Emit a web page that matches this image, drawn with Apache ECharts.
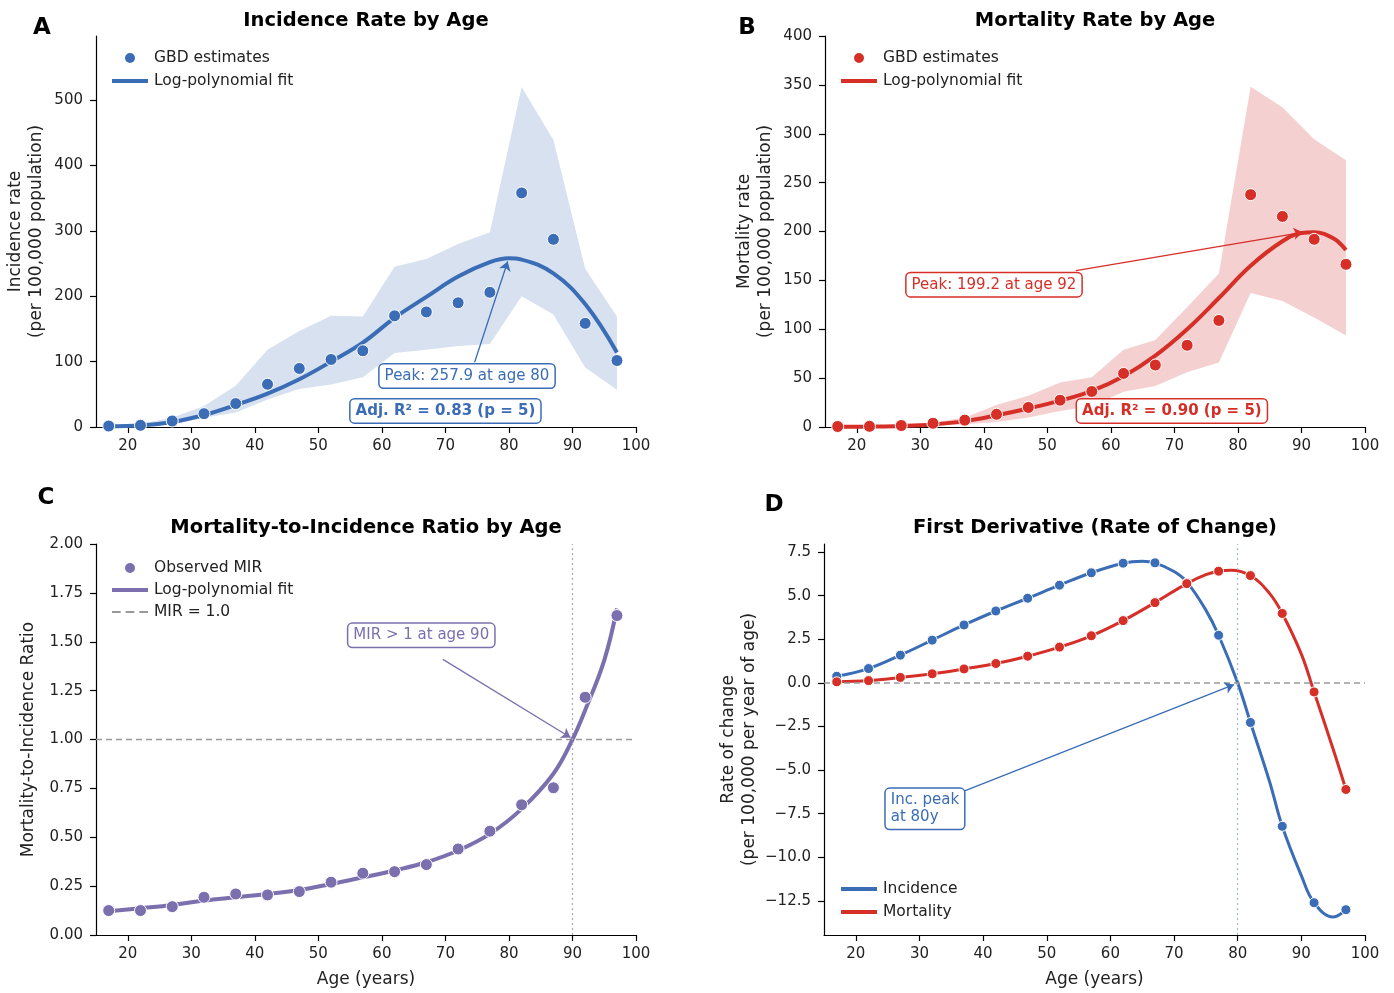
<!DOCTYPE html>
<html><head><meta charset="utf-8">
<script src="https://cdn.jsdelivr.net/npm/echarts@6/dist/echarts.min.js"></script>
<style>html,body{margin:0;padding:0;background:#fff}#c{width:1394px;height:993px}</style>
</head><body><div id="c"></div>
<script>
const FONT = "DejaVu Sans";
const BLUE = "#3a6db5", RED = "#d62f28", PURPLE = "#7b6fae";
const BAND_BLUE = "#d8e1ef", BAND_RED = "#f4d1d0";

// ---- data ----
const ages = [17,22,27,32,37,42,47,52,57,62,67,72,77,82,87,92,97];
const xTicks = [20,30,40,50,60,70,80,90,100];

const incObs   = [1.5,2.6,9.2,20.4,35.8,65.4,89.5,103.3,116.6,170,176,190,206,358,287,158.5,101.7];
const incLower = [0.5,1.5,4,14,22,42,58,65,76,113,118,124,127,200,172,91,57];
const incUpper = [3,5,14,32,63,118,147,170,169,245,257,280,298,520,439,242,169];
const incFitAges = [17,22,27,32,37,42,47,52,57,62,67,72,77,80,82,87,92,97];
const incFitVals = [1,2.5,7.7,18.4,33.7,51,73,100,129,167,199,230,252,257.9,256,235,188,114];
const incTicks = [0,100,200,300,400,500];

const morObs   = [0.5,0.7,1.5,3.8,7,13,20,27.4,36.3,54.8,63.4,83.6,109,237.7,215.4,192,166.4];
const morLower = [0.1,0.2,0.5,1.4,2.7,5,9.6,16.4,21.6,36,42,56,66,137,129,112,93.5];
const morUpper = [0.8,1.2,2.5,4.5,9.6,22.6,32,45.5,51,79,89,122.6,157,348,327,294.5,273];
const morFitAges = [17,22,27,32,37,42,47,52,57,62,67,72,77,82,87,90,92,95,97];
const morFitVals = [0.2,0.5,1.1,2.6,6,12,19,27,37,52,73,100,132,165,190,198.5,199.2,193,181];
const morTicks = [0,50,100,150,200,250,300,350,400];

const mirObs = [0.125,0.125,0.145,0.193,0.21,0.205,0.222,0.27,0.316,0.324,0.36,0.44,0.531,0.666,0.753,1.216,1.634];
const mirFitAges = [17,22,27,32,37,42,47,52,57,62,67,72,77,82,87,90,92,95,97];
const mirFitVals = [0.121,0.137,0.154,0.176,0.193,0.21,0.23,0.261,0.295,0.33,0.372,0.432,0.517,0.645,0.825,1.0,1.15,1.405,1.67];
const mirTicks = [0,0.25,0.5,0.75,1,1.25,1.5,1.75,2];

const dIncAges = [17,22,27,32,37,42,47,52,57,62,65,67,70,72,75,77,80,82,85,87,90,92,95,97];
const dIncVals = [0.38,0.82,1.59,2.45,3.32,4.12,4.85,5.6,6.31,6.86,6.97,6.88,6.38,5.79,4.17,2.73,0,-2.27,-5.65,-8.22,-11.05,-12.6,-13.42,-13.0];
const dIncPts  = [0.38,0.82,1.59,2.45,3.32,4.12,4.85,5.6,6.31,6.86,6.88,5.72,2.73,-2.27,-8.22,-12.6,-13.0];
const dMorAges = [17,22,27,32,37,42,47,52,57,62,67,72,75,77,79,82,85,87,90,92,95,97];
const dMorVals = [0.06,0.13,0.31,0.52,0.8,1.11,1.53,2.05,2.7,3.57,4.6,5.69,6.2,6.4,6.46,6.15,5.13,3.98,1.65,-0.52,-3.8,-6.11];
const dMorPts  = [0.06,0.13,0.31,0.52,0.8,1.11,1.53,2.05,2.7,3.57,4.6,5.69,6.4,6.15,3.98,-0.52,-6.11];
const dTicks = [-12.5,-10,-7.5,-5,-2.5,0,2.5,5,7.5];

const legendNames = {
  incObs:'GBD estimates', incFit:'Log-polynomial fit',
  morObs:'GBD estimates', morFit:'Log-polynomial fit',
  mirObs:'Observed MIR', mirFit:'Log-polynomial fit', mirRef:'MIR = 1.0',
  Incidence:'Incidence', Mortality:'Mortality'
};

// ---- helpers ----
const zip = (a,b) => a.map((v,i)=>[v,b[i]]);
const TXT = '#222';
const BAR_ICON = 'path://M0,0H36V4H0Z';
const DASH_ICON = 'path://M0,0H7V1.6H0ZM11,0H18V1.6H11ZM22,0H29V1.6H22Z';

function xAx(gi, named){
  return {type:'value', gridIndex:gi, min:15, max:100,
    axisLine:{onZero:false, lineStyle:{color:'#000',width:1.2}},
    axisTick:{customValues:xTicks, length:6, lineStyle:{color:'#000',width:1.2}},
    axisLabel:{customValues:xTicks, color:TXT, fontSize:15, fontFamily:FONT, margin:12},
    splitLine:{show:false},
    name: named ? 'Age (years)' : '', nameLocation:'middle', nameGap:36,
    nameTextStyle:{fontSize:17, color:TXT, fontFamily:FONT}};
}
function yAx(gi, min, max, ticks, fmt, name, gap){
  return {type:'value', gridIndex:gi, min:min, max:max,
    axisLine:{show:true, onZero:false, lineStyle:{color:'#000',width:1.2}},
    axisTick:{show:true, customValues:ticks, length:6, lineStyle:{color:'#000',width:1.2}},
    axisLabel:{customValues:ticks, color:TXT, fontSize:15, fontFamily:FONT, margin:13, formatter:fmt},
    splitLine:{show:false},
    name:name, nameLocation:'middle', nameGap:gap, nameRotate:90,
    nameTextStyle:{fontSize:17, color:TXT, fontFamily:FONT, lineHeight:21}};
}
function bandSeries(gi, lower, upper, fill){
  return {type:'custom', xAxisIndex:gi, yAxisIndex:gi, silent:true, z:1,
    data: ages.map((a,i)=>[a, lower[i], upper[i]]),
    encode:{x:0, y:[1,2]},
    renderItem:(params, api)=>{
      if (params.dataIndex !== 0) return null;
      const pts = [];
      for (let i=0;i<ages.length;i++) pts.push(api.coord([ages[i], upper[i]]));
      for (let i=ages.length-1;i>=0;i--) pts.push(api.coord([ages[i], lower[i]]));
      return {type:'polygon', shape:{points:pts}, style:{fill:fill}};
    }};
}
function boxLabel(text, color, bold, align){
  return {show:true, position:'inside', formatter:text, color:color,
    fontFamily:FONT, fontSize:15, fontWeight: bold?'bold':'normal',
    backgroundColor:'#fff', borderColor:color, borderWidth:1.5, borderRadius:4,
    padding:[4,5,2,5], align: align||'center', verticalAlign:'middle', lineHeight:17};
}
function arrow(from, to, color){
  return {silent:true, symbol:['none','arrow'], symbolSize:9, animation:false,
    label:{show:false}, lineStyle:{color:color, width:1.3, type:'solid'},
    data:[[{coord:from},{coord:to}]]};
}
function mp(items){
  return {silent:true, animation:false, symbol:'rect', symbolSize:1,
    itemStyle:{color:'transparent'},
    data: items.map(it=>({coord:it.coord, value:0, label:it.label}))};
}

const grids = [
  {left:96, top:36, width:540, height:391},
  {left:825, top:36, width:540, height:391},
  {left:96, top:544, width:540, height:391},
  {left:824, top:544, width:541, height:391}
];

const legendBase = {orient:'vertical', itemWidth:36, itemHeight:12, itemGap:6,
  formatter: n => legendNames[n], selectedMode:false,
  textStyle:{fontFamily:FONT, fontSize:15.5, color:TXT, padding:[0,0,0,1]}};

const option = {
  animation:false,
  backgroundColor:'#fff',
  grid: grids,
  xAxis: [xAx(0,false), xAx(1,false), xAx(2,true), xAx(3,true)],
  yAxis: [
    yAx(0, 0, 598, incTicks, v=>String(v), 'Incidence rate\n(per 100,000 population)', 49),
    yAx(1, 0, 400, morTicks, v=>String(v), 'Mortality rate\n(per 100,000 population)', 49),
    yAx(2, 0, 2, mirTicks, v=>v.toFixed(2), 'Mortality-to-Incidence Ratio', 57),
    yAx(3, -14.45, 7.96, dTicks, v=>(v<0?'\u2212':'')+Math.abs(v).toFixed(1), 'Rate of change\n(per 100,000 per year of age)', 64)
  ],
  legend: [
    Object.assign({}, legendBase, {left:107, top:45, itemGap:7, data:['incObs',{name:'incFit', icon:BAR_ICON}]}),
    Object.assign({}, legendBase, {left:836, top:45, itemGap:7, data:['morObs',{name:'morFit', icon:BAR_ICON}]}),
    Object.assign({}, legendBase, {left:107, top:555, itemGap:6, data:['mirObs',{name:'mirFit', icon:BAR_ICON},{name:'mirRef', icon:DASH_ICON}]}),
    Object.assign({}, legendBase, {left:836, top:876, itemGap:7, data:[{name:'Incidence', icon:BAR_ICON},{name:'Mortality', icon:BAR_ICON}]})
  ],
  graphic: [
    {type:'text', x:366, y:21, style:{text:'Incidence Rate by Age', font:'bold 19.5px "DejaVu Sans"', fill:'#000', textAlign:'center', textVerticalAlign:'middle'}},
    {type:'text', x:1095, y:21, style:{text:'Mortality Rate by Age', font:'bold 19.5px "DejaVu Sans"', fill:'#000', textAlign:'center', textVerticalAlign:'middle'}},
    {type:'text', x:366, y:528, style:{text:'Mortality-to-Incidence Ratio by Age', font:'bold 19.5px "DejaVu Sans"', fill:'#000', textAlign:'center', textVerticalAlign:'middle'}},
    {type:'text', x:1095, y:528, style:{text:'First Derivative (Rate of Change)', font:'bold 19.5px "DejaVu Sans"', fill:'#000', textAlign:'center', textVerticalAlign:'middle'}},
    {type:'text', x:42, y:28, style:{text:'A', font:'bold 23px "DejaVu Sans"', fill:'#000', textAlign:'center', textVerticalAlign:'middle'}},
    {type:'text', x:747, y:28, style:{text:'B', font:'bold 23px "DejaVu Sans"', fill:'#000', textAlign:'center', textVerticalAlign:'middle'}},
    {type:'text', x:46, y:498, style:{text:'C', font:'bold 23px "DejaVu Sans"', fill:'#000', textAlign:'center', textVerticalAlign:'middle'}},
    {type:'text', x:774, y:505, style:{text:'D', font:'bold 23px "DejaVu Sans"', fill:'#000', textAlign:'center', textVerticalAlign:'middle'}}
  ],
  series: [
    // ---- A ----
    bandSeries(0, incLower, incUpper, BAND_BLUE),
    {name:'incFit', type:'line', xAxisIndex:0, yAxisIndex:0, z:3, data:zip(incFitAges, incFitVals),
      smooth:0.4, symbol:'none', lineStyle:{color:BLUE, width:4}, itemStyle:{color:BLUE},
      markLine: arrow([74.6, 99], [79.8, 253], BLUE)},
    {name:'incObs', type:'scatter', xAxisIndex:0, yAxisIndex:0, z:4, data:zip(ages, incObs),
      symbolSize:12, itemStyle:{color:BLUE, borderColor:'#fff', borderWidth:1, opacity:1},
      markPoint: mp([
        {coord:[73.4, 78], label:boxLabel('Peak: 257.9 at age 80', BLUE, false)},
        {coord:[70.0, 24.5], label:boxLabel('Adj. R\u00b2 = 0.83 (p = 5)', BLUE, true)}
      ])},
    // ---- B ----
    bandSeries(1, morLower, morUpper, BAND_RED),
    {name:'morFit', type:'line', xAxisIndex:1, yAxisIndex:1, z:3, data:zip(morFitAges, morFitVals),
      smooth:0.4, symbol:'none', lineStyle:{color:RED, width:4}, itemStyle:{color:RED},
      markLine: arrow([54.5, 160], [90.2, 199.2], RED)},
    {name:'morObs', type:'scatter', xAxisIndex:1, yAxisIndex:1, z:4, data:zip(ages, morObs),
      symbolSize:12, itemStyle:{color:RED, borderColor:'#fff', borderWidth:1, opacity:1},
      markPoint: mp([
        {coord:[41.6, 145.6], label:boxLabel('Peak: 199.2 at age 92', RED, false)},
        {coord:[69.6, 16.4], label:boxLabel('Adj. R\u00b2 = 0.90 (p = 5)', RED, true)}
      ])},
    // ---- C ----
    {name:'mirRef', type:'line', xAxisIndex:2, yAxisIndex:2, z:2, data:[[15,1],[100,1]],
      symbol:'none', lineStyle:{color:'#999', width:1.5, type:[6,4]}, itemStyle:{color:'#999'},
      markLine:{silent:true, symbol:'none', animation:false, label:{show:false},
        lineStyle:{color:'#aaa', width:1.2, type:[2,3]}, data:[{xAxis:90}]}},
    {name:'mirFit', type:'line', xAxisIndex:2, yAxisIndex:2, z:3, data:zip(mirFitAges, mirFitVals),
      smooth:0.4, symbol:'none', lineStyle:{color:PURPLE, width:4}, itemStyle:{color:PURPLE},
      markLine: arrow([69.6, 1.41], [89.7, 1.01], PURPLE)},
    {name:'mirObs', type:'scatter', xAxisIndex:2, yAxisIndex:2, z:4, data:zip(ages, mirObs),
      symbolSize:12, itemStyle:{color:PURPLE, borderColor:'#fff', borderWidth:1, opacity:1},
      markPoint: mp([
        {coord:[66.2, 1.533], label:boxLabel('MIR > 1 at age 90', PURPLE, false)}
      ])},
    // ---- D ----
    {name:'Incidence', type:'line', xAxisIndex:3, yAxisIndex:3, z:3, data:zip(dIncAges, dIncVals),
      smooth:0.4, symbol:'none', lineStyle:{color:BLUE, width:3}, itemStyle:{color:BLUE},
      markLine:{silent:true, symbol:'none', animation:false, label:{show:false},
        lineStyle:{color:'#9fb6dd', width:1.2, type:[2,3]}, data:[{xAxis:80}]}},
    {name:'Mortality', type:'line', xAxisIndex:3, yAxisIndex:3, z:3, data:zip(dMorAges, dMorVals),
      smooth:0.4, symbol:'none', lineStyle:{color:RED, width:3}, itemStyle:{color:RED},
      markLine:{silent:true, symbol:'none', animation:false, label:{show:false},
        lineStyle:{color:'#999', width:1.5, type:[6,4]}, data:[{yAxis:0}]}},
    {name:'incPts', type:'scatter', xAxisIndex:3, yAxisIndex:3, z:4, data:zip(ages, dIncPts),
      symbolSize:10, itemStyle:{color:BLUE, borderColor:'#fff', borderWidth:1, opacity:1},
      markLine: arrow([35.9, -6.36], [79.4, -0.1], BLUE)},
    {name:'morPts', type:'scatter', xAxisIndex:3, yAxisIndex:3, z:5, data:zip(ages, dMorPts),
      symbolSize:10, itemStyle:{color:RED, borderColor:'#fff', borderWidth:1, opacity:1},
      markPoint: mp([
        {coord:[24.7, -7.22], label:boxLabel('Inc. peak\nat 80y', BLUE, false, 'left')}
      ])}
  ]
};

const chart = echarts.init(document.getElementById('c'), null, {renderer:'canvas'});
chart.setOption(option);
</script>
</body></html>
